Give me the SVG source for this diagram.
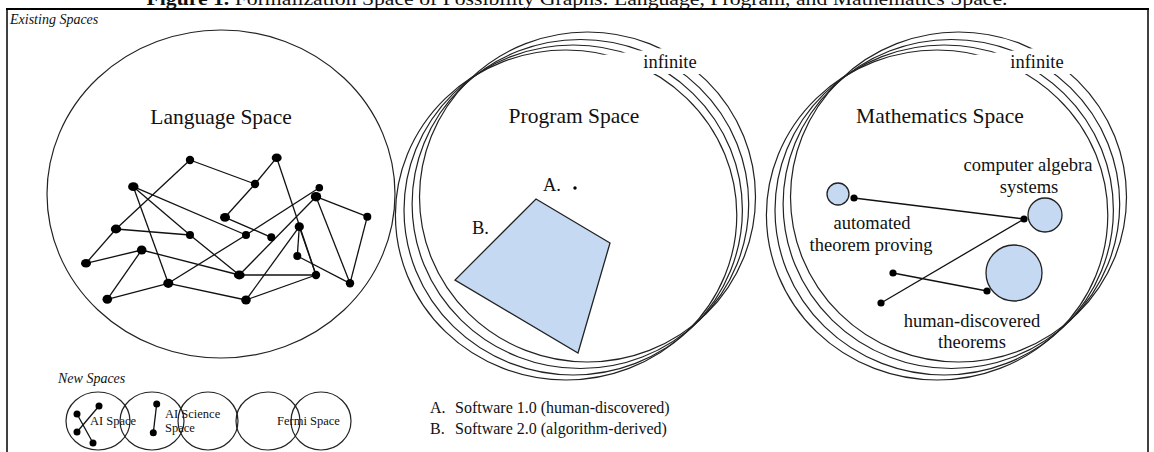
<svg xmlns="http://www.w3.org/2000/svg" width="1154" height="452" viewBox="0 0 1154 452">
<style>
text{font-family:"Liberation Serif","Times New Roman",serif;fill:#111}
.big{font-size:21.5px}
.mid{font-size:18.5px}
.leg{font-size:16px}
.sm{font-size:12.5px}
.it{font-style:italic;font-size:14px}
.ring{fill:none;stroke:#222;stroke-width:1.2}
.edge{stroke:#111;stroke-width:1.3;fill:none}
.dot{fill:#000}
.blue{fill:#c6d9f3;stroke:#222;stroke-width:1.3}
</style>
<defs>
<mask id="gapMask" maskUnits="userSpaceOnUse" x="0" y="0" width="800" height="452">
<rect x="0" y="0" width="800" height="452" fill="#fff"/>
<polygon points="598,55.5 668,47.5 735,47.5 735,74 598,74" fill="#000"/>
</mask>
<g id="rings">
<ellipse class="ring" cx="587.5" cy="197" rx="168" ry="165"/>
<ellipse class="ring" cx="580.4" cy="204" rx="168.3" ry="164.5"/>
<ellipse class="ring" cx="573.2" cy="210" rx="169.2" ry="165"/>
<ellipse class="ring" cx="566.1" cy="215" rx="170.7" ry="165"/>
</g>
</defs>
<rect width="1154" height="452" fill="#fff"/>

<g id="title">
<text x="577" y="4.5" text-anchor="middle" font-size="19" textLength="861" lengthAdjust="spacingAndGlyphs"><tspan font-weight="bold">Figure 1.</tspan> Formalization Space of Possibility Graphs: Language, Program, and Mathematics Space.</text>
</g>
<g id="frame" fill="none" stroke="#000">
<line x1="6" y1="9" x2="1149" y2="9" stroke-width="2.2"/>
<line x1="7" y1="9" x2="7" y2="452" stroke-width="1.5"/>
<line x1="1148" y1="9" x2="1148" y2="452" stroke-width="1.5"/>
</g>
<text class="it" x="10" y="24">Existing Spaces</text>

<g id="language-space">
<ellipse class="ring" cx="221" cy="194" rx="174" ry="164"/>
<text class="big" x="221" y="124" text-anchor="middle">Language Space</text>
</g>

<g id="connectors">
<polyline class="edge" points="190,160 255,184"/>
<polyline class="edge" points="190,160 116,229"/>
<polyline class="edge" points="276.7,157.7 255,184"/>
<polyline class="edge" points="276.7,157.7 316,275"/>
<polyline class="edge" points="255,184 225,217.3"/>
<polyline class="edge" points="133.3,186.7 246,235"/>
<polyline class="edge" points="133.3,186.7 190,235"/>
<polyline class="edge" points="190,235 239.3,275"/>
<polyline class="edge" points="133.3,186.7 168.3,283.3"/>
<polyline class="edge" points="225,217.3 271.3,237.3"/>
<polyline class="edge" points="116,229 190,235"/>
<polyline class="edge" points="116,229 86,263.3"/>
<polyline class="edge" points="86,263.3 141.7,250"/>
<polyline class="edge" points="141.7,250 107.3,299.3"/>
<polyline class="edge" points="141.7,250 239.3,275"/>
<polyline class="edge" points="107.3,299.3 168.3,283.3"/>
<polyline class="edge" points="168.3,283.3 246,300"/>
<polyline class="edge" points="168.3,283.3 246,235"/>
<polyline class="edge" points="246,235 319.3,187.7"/>
<polyline class="edge" points="246,300 299.3,226.7"/>
<polyline class="edge" points="246,300 316,275"/>
<polyline class="edge" points="239.3,275 316,196.7"/>
<polyline class="edge" points="239.3,275 316,275"/>
<polyline class="edge" points="299.3,226.7 297.3,256"/>
<polyline class="edge" points="299.3,226.7 316,275"/>
<polyline class="edge" points="297.3,256 350,283.3"/>
<polyline class="edge" points="316,196.7 367.3,216.7"/>
<polyline class="edge" points="367.3,216.7 350,283.3"/>
<polyline class="edge" points="316,196.7 350,283.3"/>
<polyline class="edge" points="854,198 1024,219"/>
<polyline class="edge" points="1024,219 881,303"/>
<polyline class="edge" points="893,273 987,291"/>
<polyline class="edge" points="77,414 93,443"/>
<polyline class="edge" points="99,406 77,432"/>
<polyline class="edge" points="156.7,404 153.3,432.7"/>
</g>

<g id="lang-nodes">
<g id="n1"><circle class="dot" cx="190" cy="160" r="4.2"/></g>
<g id="n2"><ellipse class="dot" cx="276.7" cy="157.7" rx="5" ry="4.3"/></g>
<g id="n3"><circle class="dot" cx="255" cy="184" r="4.2"/></g>
<g id="n4"><ellipse class="dot" cx="133.3" cy="186.7" rx="5.2" ry="4.4"/></g>
<g id="n5a"><circle class="dot" cx="319.3" cy="187.7" r="3.8"/></g>
<g id="n5b"><ellipse class="dot" cx="316" cy="196.7" rx="5.2" ry="4.8"/></g>
<g id="n6"><ellipse class="dot" cx="225" cy="217.3" rx="5" ry="4.4"/></g>
<g id="n7"><ellipse class="dot" cx="116" cy="229" rx="5.2" ry="4.4"/></g>
<g id="n8"><circle class="dot" cx="190" cy="235" r="4"/></g>
<g id="n9"><circle class="dot" cx="246" cy="235" r="4"/></g>
<g id="n10"><circle class="dot" cx="271.3" cy="237.3" r="4"/></g>
<g id="n11"><ellipse class="dot" cx="299.3" cy="226.7" rx="4.6" ry="4.4"/></g>
<g id="n12"><circle class="dot" cx="367.3" cy="216.7" r="4"/></g>
<g id="n13"><ellipse class="dot" cx="141.7" cy="250" rx="4.8" ry="4.6"/></g>
<g id="n14"><ellipse class="dot" cx="86" cy="263.3" rx="5" ry="4.3"/></g>
<g id="n15"><circle class="dot" cx="297.3" cy="256" r="4"/></g>
<g id="n16"><ellipse class="dot" cx="239.3" cy="275" rx="5.4" ry="4.4"/></g>
<g id="n17"><circle class="dot" cx="316" cy="275" r="4.2"/></g>
<g id="n18"><ellipse class="dot" cx="168.3" cy="283.3" rx="5" ry="4.6"/></g>
<g id="n19"><circle class="dot" cx="350" cy="283.3" r="4.2"/></g>
<g id="n20"><ellipse class="dot" cx="107.3" cy="299.3" rx="4.8" ry="4.5"/></g>
<g id="n21"><ellipse class="dot" cx="246" cy="300" rx="4.8" ry="4.5"/></g>
</g>

<g id="program-space">
<g mask="url(#gapMask)"><use href="#rings"/></g>
<text class="mid" x="670" y="68" text-anchor="middle">infinite</text>
<text class="big" x="574" y="123" text-anchor="middle">Program Space</text>
<g id="software-1"><text class="mid" x="543" y="191">A.</text><circle class="dot" cx="575" cy="188" r="1.7"/></g>
<g id="software-2"><text class="mid" x="472" y="234">B.</text><polygon class="blue" points="536,199 610,243 578,353 455,280"/></g>
</g>

<g id="mathematics-space">
<g transform="translate(371,0)"><g mask="url(#gapMask)"><use href="#rings"/></g></g>
<text class="mid" x="1037" y="68" text-anchor="middle">infinite</text>
<text class="big" x="940" y="123" text-anchor="middle">Mathematics Space</text>
<g id="atp"><circle class="blue" cx="838" cy="194" r="11"/><circle class="dot" cx="854" cy="198" r="3.6"/>
<text class="mid" x="872" y="229" text-anchor="middle">automated</text>
<text class="mid" x="871" y="251" text-anchor="middle">theorem proving</text></g>
<g id="cas"><circle class="blue" cx="1045" cy="215" r="17"/><circle class="dot" cx="1024" cy="219" r="3.6"/>
<text class="mid" x="1028" y="171" text-anchor="middle">computer algebra</text>
<text class="mid" x="1029" y="193" text-anchor="middle">systems</text></g>
<g id="hdt"><circle class="blue" cx="1014" cy="273" r="28"/><circle class="dot" cx="987" cy="291" r="3.6"/>
<text class="mid" x="972" y="327" text-anchor="middle">human-discovered</text>
<text class="mid" x="972" y="348" text-anchor="middle">theorems</text></g>
<g id="m-dot1"><circle class="dot" cx="893" cy="273" r="3.6"/></g>
<g id="m-dot2"><circle class="dot" cx="881" cy="303" r="3.6"/></g>
</g>

<g id="legend">
<text class="leg" x="430" y="413">A.</text><text class="leg" x="455" y="413">Software 1.0 (human-discovered)</text>
<text class="leg" x="430" y="434">B.</text><text class="leg" x="455" y="434">Software 2.0 (algorithm-derived)</text>
</g>

<text class="it" x="58" y="383">New Spaces</text>
<g id="ai-space"><ellipse class="ring" cx="98" cy="421" rx="32" ry="29"/>
<circle class="dot" cx="77" cy="414" r="3.5"/><circle class="dot" cx="99" cy="406" r="3.5"/><circle class="dot" cx="77" cy="432" r="3.5"/><circle class="dot" cx="93" cy="443" r="3.5"/>
<text class="sm" x="90" y="425">AI Space</text></g>
<g id="ai-science-space"><ellipse class="ring" cx="152" cy="421" rx="32" ry="29"/>
<circle class="dot" cx="156.7" cy="404" r="3.5"/><circle class="dot" cx="153.3" cy="432.7" r="3.5"/>
<text class="sm" x="165" y="418">AI Science</text><text class="sm" x="165" y="432">Space</text></g>
<g id="ns3"><ellipse class="ring" cx="208" cy="421" rx="30" ry="29"/></g>
<g id="ns4"><ellipse class="ring" cx="268" cy="421" rx="32" ry="29"/></g>
<g id="fermi-space"><ellipse class="ring" cx="321" cy="421" rx="30" ry="29"/>
<text class="sm" x="277" y="425">Fermi Space</text></g>
</svg>
